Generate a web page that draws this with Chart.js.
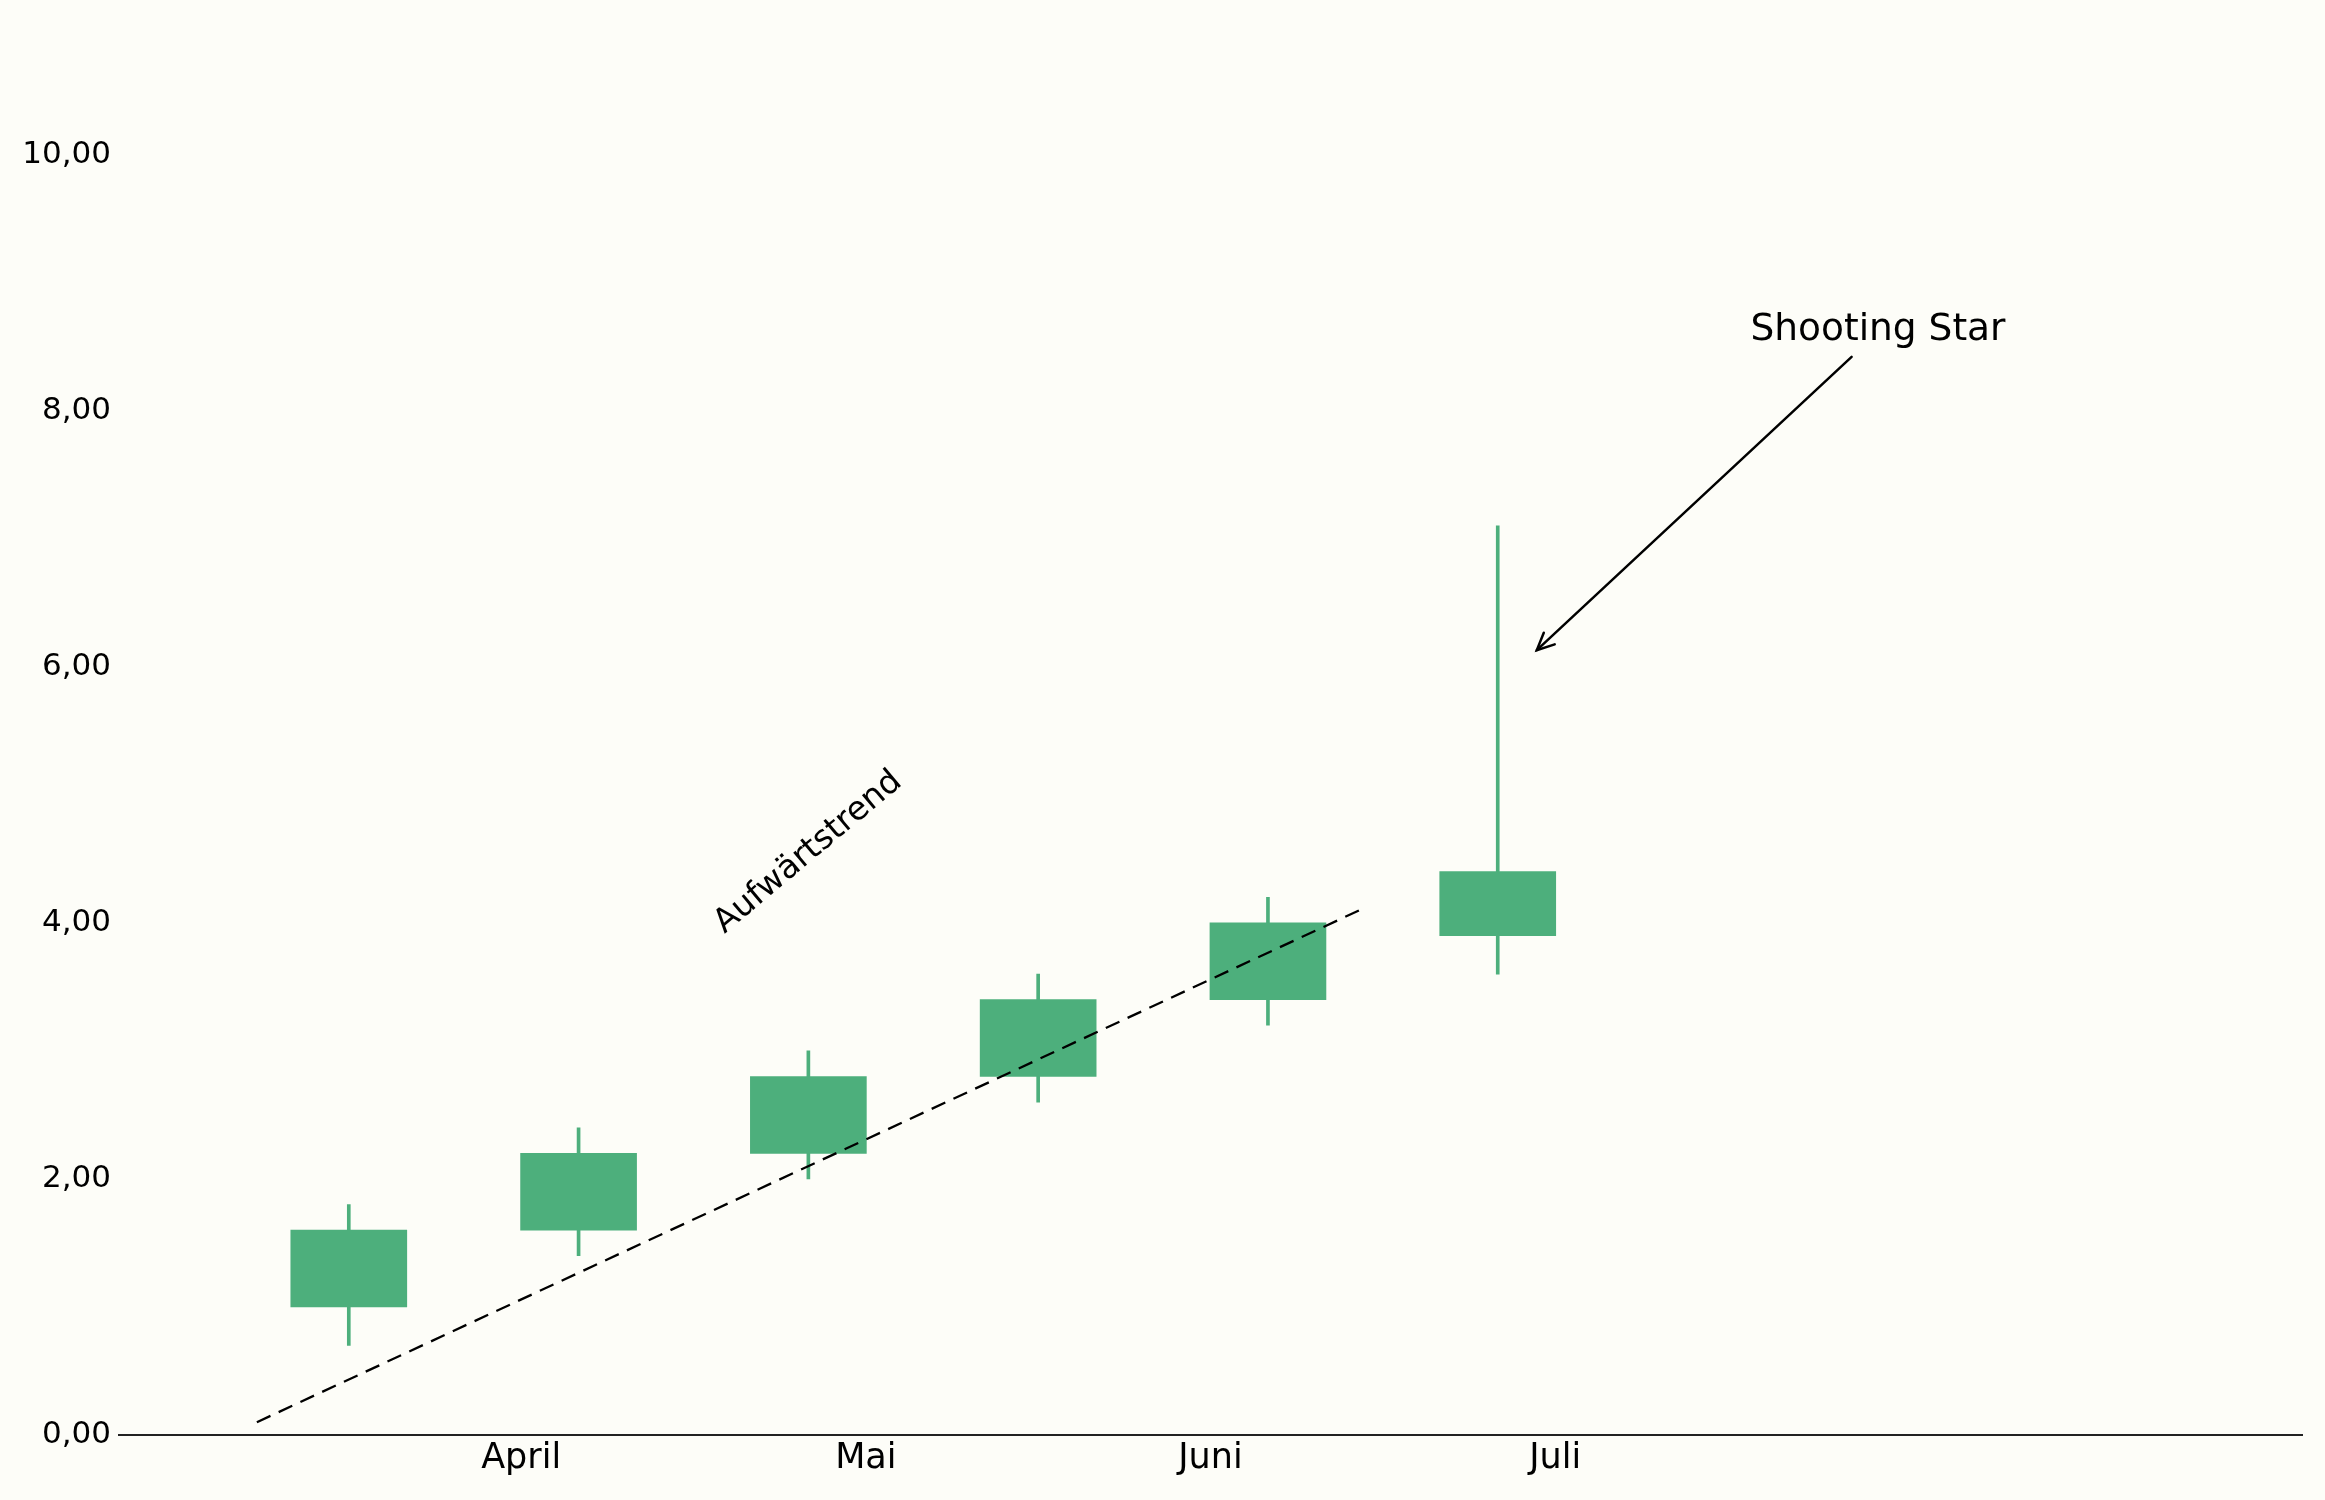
<!DOCTYPE html>
<html>
<head>
<meta charset="utf-8">
<script src="https://cdn.jsdelivr.net/npm/chart.js@4.4.1/dist/chart.umd.min.js"></script>
<style>
  html, body { margin: 0; padding: 0; background: #fdfdf8; }
  canvas { display: block; }
</style>
</head>
<body>
<canvas id="chart" width="2325" height="1500"></canvas>
<script>
// candle positions (one unit per candle) and OHLC values
var candleX = [0, 1, 2, 3, 4, 5];
var opens  = [1.0, 1.6, 2.2, 2.8, 3.4, 3.9];
var closes = [1.6, 2.2, 2.8, 3.4, 4.0, 4.4];
var lows   = [0.7, 1.4, 2.0, 2.6, 3.2, 3.6];
var highs  = [1.8, 2.4, 3.0, 3.6, 4.2, 7.1];

// month ticks on the x axis
var monthTicks  = [0.75, 2.25, 3.75, 5.25];
var monthLabels = ['April', 'Mai', 'Juni', 'Juli'];
var yTicks = [0, 2, 4, 6, 8, 10];

// dashed trend line
var trendX = [-0.4, 4.4];
var trendY = [0.1, 4.1];

var green = '#4daf7c';
var bg = '#fdfdf8';
var font = 'DejaVu Sans';

var background = {
    id: 'background',
    beforeDraw: function(chart) {
        var ctx = chart.ctx;
        ctx.save();
        ctx.fillStyle = bg;
        ctx.fillRect(0, 0, chart.width, chart.height);
        ctx.restore();
    }
};

var notes = {
    id: 'notes',
    afterDatasetsDraw: function(chart) {
        var ctx = chart.ctx;
        var x = chart.scales.x, y = chart.scales.y;
        ctx.save();
        ctx.fillStyle = '#000';
        ctx.strokeStyle = '#000';

        // Aufwärtstrend label
        ctx.save();
        ctx.translate(x.getPixelForValue(2.0), y.getPixelForValue(4.55));
        ctx.rotate(-40 * Math.PI / 180);
        ctx.font = '33px "' + font + '"';
        ctx.textAlign = 'center';
        ctx.textBaseline = 'middle';
        ctx.fillText('Aufwärtstrend', 0, 0);
        ctx.restore();

        // Shooting Star label + arrow
        ctx.font = '37.5px "' + font + '"';
        ctx.textAlign = 'left';
        ctx.textBaseline = 'alphabetic';
        ctx.fillText('Shooting Star', x.getPixelForValue(6.1), y.getPixelForValue(8.55));

        var x0 = x.getPixelForValue(6.54), y0 = y.getPixelForValue(8.42);
        var x1 = x.getPixelForValue(5.17), y1 = y.getPixelForValue(6.13);
        var ang = Math.atan2(y1 - y0, x1 - x0);
        var hl = 17, hw = 8;
        ctx.lineWidth = 2.5;
        ctx.lineCap = 'round';
        ctx.beginPath();
        ctx.moveTo(x0, y0);
        ctx.lineTo(x1, y1);
        ctx.stroke();
        var bx = x1 - hl * Math.cos(ang), by = y1 - hl * Math.sin(ang);
        var px = -Math.sin(ang) * hw, py = Math.cos(ang) * hw;
        ctx.beginPath();
        ctx.moveTo(bx + px, by + py);
        ctx.lineTo(x1, y1);
        ctx.lineTo(bx - px, by - py);
        ctx.stroke();
        ctx.restore();
    }
};

var wickData = candleX.map(function(v, i) { return {x: v, y: [lows[i], highs[i]]}; });
var bodyData = candleX.map(function(v, i) { return {x: v, y: [opens[i], closes[i]]}; });
var trendData = trendX.map(function(v, i) { return {x: v, y: trendY[i]}; });

new Chart(document.getElementById('chart'), {
    type: 'bar',
    data: {
        datasets: [{
            label: 'Docht',
            data: wickData,
            backgroundColor: green,
            barThickness: 3,
            grouped: false,
            order: 2
        }, {
            label: 'Körper',
            data: bodyData,
            backgroundColor: green,
            barThickness: 116,
            grouped: false,
            order: 1
        }, {
            type: 'line',
            label: 'Trend',
            data: trendData,
            borderColor: '#000',
            borderWidth: 2.3,
            borderDash: [15, 9],
            pointRadius: 0,
            fill: false,
            order: 0
        }]
    },
    options: {
        responsive: false,
        devicePixelRatio: 1,
        animation: false,
        layout: { padding: { top: 24, right: 23, left: 0, bottom: 0 } },
        plugins: {
            legend: { display: false },
            tooltip: { enabled: false }
        },
        scales: {
            x: {
                type: 'linear',
                min: -1,
                max: 8.5,
                offset: false,
                grid: { display: false, drawTicks: false, offset: false },
                border: { display: true, color: '#222', width: 2 },
                afterBuildTicks: function(s) {
                    s.ticks = monthTicks.map(function(v) { return {value: v}; });
                },
                afterFit: function(s) { s.height = 65; },
                ticks: {
                    autoSkip: false,
                    maxRotation: 0,
                    padding: 3,
                    color: '#000',
                    font: { family: font, size: 35 },
                    callback: function(v) { return monthLabels[monthTicks.indexOf(v)]; }
                }
            },
            y: {
                type: 'linear',
                min: 0,
                max: 11,
                grid: { display: false, drawTicks: false },
                border: { display: false },
                afterBuildTicks: function(s) {
                    s.ticks = yTicks.map(function(v) { return {value: v}; });
                },
                afterFit: function(s) { s.width = 119; },
                ticks: {
                    padding: 8,
                    color: '#000',
                    font: { family: font, size: 31 },
                    callback: function(v) { return v.toFixed(2).replace('.', ','); }
                }
            }
        }
    },
    plugins: [background, notes]
});
</script>
</body>
</html>
